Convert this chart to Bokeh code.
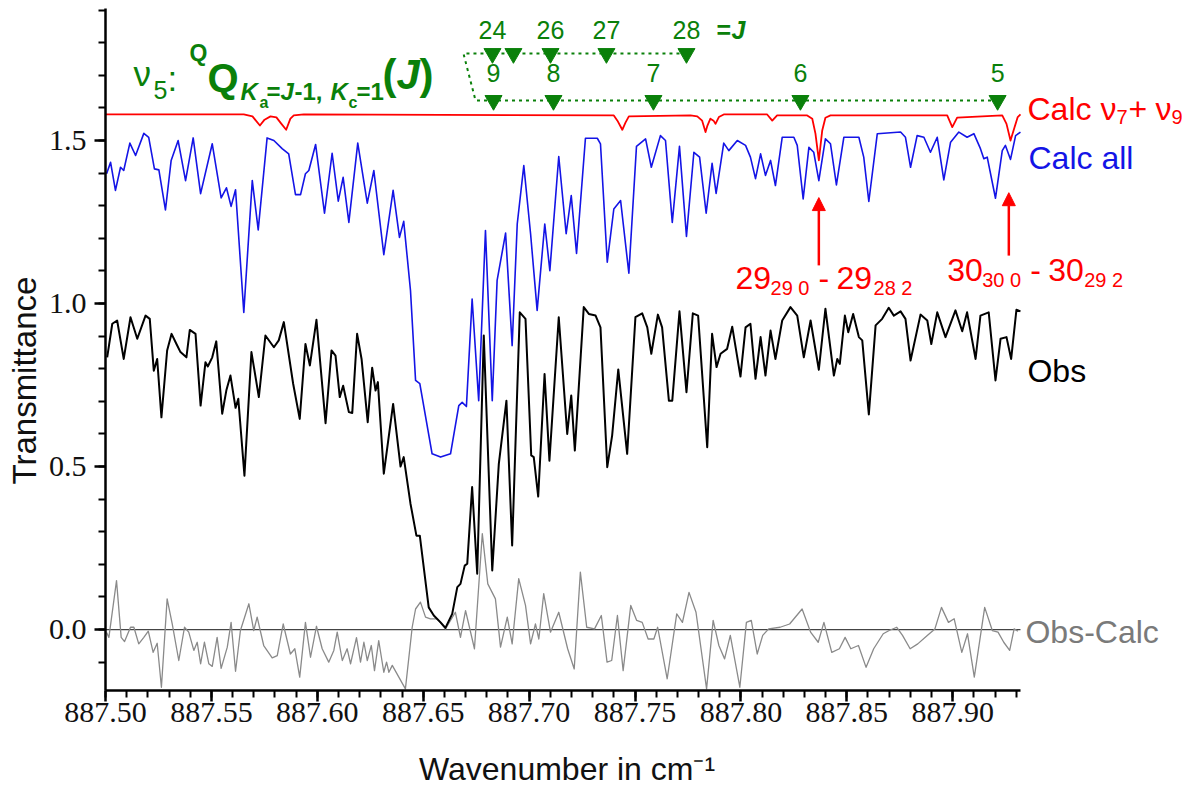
from bokeh.plotting import figure
from bokeh.models import (Range1d, SingleIntervalTicker, PrintfTickFormatter,
                          Label, Arrow, NormalHead, Title)
from bokeh.core.properties import value
from bokeh.embed import file_html
from bokeh.resources import INLINE

# ---------------------------------------------------------------- spectra
# calculated spectrum, all bands (offset upward for display)
calc_all_x = [887.5005, 887.5024, 887.5047, 887.5071, 887.5086, 887.5115, 887.5142, 887.5181, 887.5204, 887.5231,
              887.5252, 887.5283, 887.5310, 887.5343, 887.5378, 887.5414, 887.5449, 887.5504, 887.5546, 887.5571,
              887.5593, 887.5614, 887.5653, 887.5693, 887.5721, 887.5763, 887.5795, 887.5834, 887.5865, 887.5897,
              887.5921, 887.5944, 887.5960, 887.5992, 887.6034, 887.6070, 887.6099, 887.6122, 887.6149, 887.6191,
              887.6236, 887.6267, 887.6314, 887.6358, 887.6388, 887.6408, 887.6440, 887.6464, 887.6484, 887.6542,
              887.6582, 887.6629, 887.6668, 887.6684, 887.6704, 887.6731, 887.6762, 887.6794, 887.6826, 887.6849,
              887.6889, 887.6920, 887.6944, 887.6975, 887.7007, 887.7038, 887.7074, 887.7098, 887.7140, 887.7175,
              887.7199, 887.7224, 887.7266, 887.7322, 887.7337, 887.7369, 887.7400, 887.7432, 887.7471, 887.7507,
              887.7550, 887.7577, 887.7620, 887.7644, 887.7676, 887.7710, 887.7743, 887.7778, 887.7805, 887.7836,
              887.7864, 887.7883, 887.7919, 887.7943, 887.7983, 887.8022, 887.8045, 887.8069, 887.8093, 887.8116,
              887.8140, 887.8163, 887.8195, 887.8250, 887.8266, 887.8294, 887.8321, 887.8344, 887.8368, 887.8399,
              887.8423, 887.8451, 887.8486, 887.8557, 887.8580, 887.8604, 887.8644, 887.8754, 887.8777, 887.8801,
              887.8832, 887.8864, 887.8895, 887.8927, 887.8958, 887.8990, 887.9029, 887.9068, 887.9100, 887.9131,
              887.9147, 887.9163, 887.9202, 887.9234, 887.9249, 887.9273, 887.9297, 887.9320]
calc_all_y = [1.398, 1.433, 1.347, 1.418, 1.408, 1.492, 1.454, 1.522, 1.510, 1.413,
              1.410, 1.287, 1.439, 1.500, 1.377, 1.508, 1.337, 1.490, 1.324, 1.355,
              1.298, 1.349, 0.973, 1.377, 1.226, 1.508, 1.500, 1.475, 1.459, 1.334,
              1.334, 1.398, 1.408, 1.488, 1.277, 1.461, 1.314, 1.387, 1.249, 1.492,
              1.308, 1.408, 1.150, 1.347, 1.203, 1.252, 1.040, 0.764, 0.754, 0.539,
              0.529, 0.539, 0.687, 0.697, 0.684, 1.014, 0.702, 1.224, 0.702, 1.071,
              1.216, 0.871, 1.244, 1.423, 1.214, 0.979, 1.244, 1.101, 1.451, 1.214,
              1.331, 1.154, 1.507, 1.507, 1.490, 1.127, 1.290, 1.316, 1.093, 1.482,
              1.505, 1.418, 1.515, 1.500, 1.249, 1.482, 1.206, 1.464, 1.449, 1.277,
              1.430, 1.338, 1.492, 1.469, 1.500, 1.485, 1.449, 1.383, 1.459, 1.393,
              1.439, 1.362, 1.510, 1.510, 1.485, 1.321, 1.479, 1.464, 1.377, 1.505,
              1.490, 1.364, 1.510, 1.510, 1.449, 1.313, 1.521, 1.526, 1.510, 1.418,
              1.515, 1.510, 1.464, 1.510, 1.379, 1.495, 1.526, 1.510, 1.521, 1.475,
              1.444, 1.449, 1.323, 1.469, 1.485, 1.442, 1.515, 1.526]

# observed spectrum
obs_x = [887.5008, 887.5032, 887.5055, 887.5086, 887.5118, 887.5150, 887.5189, 887.5209, 887.5228, 887.5244,
         887.5264, 887.5291, 887.5312, 887.5335, 887.5354, 887.5382, 887.5398, 887.5425, 887.5449, 887.5472,
         887.5483, 887.5504, 887.5523, 887.5551, 887.5571, 887.5590, 887.5614, 887.5627, 887.5656, 887.5689,
         887.5724, 887.5755, 887.5795, 887.5818, 887.5842, 887.5886, 887.5917, 887.5944, 887.5965, 887.5996,
         887.6039, 887.6067, 887.6086, 887.6106, 887.6122, 887.6149, 887.6165, 887.6188, 887.6209, 887.6238,
         887.6259, 887.6275, 887.6286, 887.6314, 887.6358, 887.6393, 887.6408, 887.6440, 887.6468, 887.6484,
         887.6526, 887.6550, 887.6582, 887.6605, 887.6637, 887.6661, 887.6676, 887.6696, 887.6708, 887.6731,
         887.6755, 887.6786, 887.6826, 887.6857, 887.6893, 887.6920, 887.6956, 887.6983, 887.7010, 887.7022,
         887.7043, 887.7073, 887.7096, 887.7140, 887.7180, 887.7199, 887.7216, 887.7258, 887.7282, 887.7314,
         887.7337, 887.7369, 887.7392, 887.7421, 887.7463, 887.7502, 887.7534, 887.7558, 887.7577, 887.7608,
         887.7628, 887.7660, 887.7676, 887.7710, 887.7743, 887.7773, 887.7798, 887.7841, 887.7864, 887.7885,
         887.7904, 887.7935, 887.7959, 887.7998, 887.8022, 887.8045, 887.8069, 887.8093, 887.8116, 887.8140,
         887.8163, 887.8195, 887.8234, 887.8266, 887.8297, 887.8329, 887.8368, 887.8399, 887.8439, 887.8455,
         887.8467, 887.8491, 887.8507, 887.8530, 887.8557, 887.8573, 887.8604, 887.8636, 887.8667, 887.8698,
         887.8722, 887.8754, 887.8777, 887.8801, 887.8848, 887.8880, 887.8899, 887.8927, 887.8966, 887.9013,
         887.9045, 887.9068, 887.9108, 887.9131, 887.9170, 887.9202, 887.9226, 887.9254, 887.9276, 887.9301,
         887.9320]
obs_y = [0.835, 0.938, 0.948, 0.830, 0.958, 0.892, 0.963, 0.953, 0.794, 0.830,
         0.651, 0.856, 0.907, 0.876, 0.851, 0.835, 0.919, 0.907, 0.687, 0.820,
         0.807, 0.835, 0.884, 0.662, 0.735, 0.779, 0.680, 0.708, 0.472, 0.851,
         0.713, 0.902, 0.866, 0.887, 0.943, 0.754, 0.646, 0.876, 0.810, 0.950,
         0.633, 0.856, 0.840, 0.713, 0.748, 0.667, 0.664, 0.907, 0.830, 0.636,
         0.803, 0.733, 0.759, 0.478, 0.692, 0.500, 0.529, 0.386, 0.288, 0.288,
         0.068, 0.043, 0.022, 0.005, 0.048, 0.130, 0.140, 0.196, 0.202, 0.437,
         0.171, 0.902, 0.181, 0.508, 0.702, 0.258, 0.973, 0.953, 0.534, 0.529,
         0.408, 0.784, 0.518, 0.958, 0.600, 0.718, 0.549, 0.989, 0.968, 0.963,
         0.927, 0.498, 0.595, 0.798, 0.539, 0.958, 0.970, 0.927, 0.846, 0.966,
         0.927, 0.702, 0.702, 0.976, 0.728, 0.970, 0.963, 0.559, 0.907, 0.805,
         0.846, 0.861, 0.929, 0.776, 0.927, 0.938, 0.769, 0.897, 0.779, 0.917,
         0.830, 0.948, 0.989, 0.963, 0.835, 0.948, 0.797, 0.984, 0.779, 0.830,
         0.815, 0.963, 0.912, 0.968, 0.897, 0.887, 0.660, 0.933, 0.953, 0.987,
         0.963, 0.976, 0.953, 0.825, 0.966, 0.948, 0.876, 0.973, 0.897, 0.979,
         0.915, 0.973, 0.830, 0.963, 0.973, 0.764, 0.892, 0.897, 0.830, 0.981,
         0.976]

# residual, observed minus calculated
resid_x = [887.5005, 887.5016, 887.5052, 887.5074, 887.5090, 887.5118, 887.5134, 887.5157, 887.5181, 887.5202,
           887.5225, 887.5244, 887.5264, 887.5291, 887.5315, 887.5346, 887.5373, 887.5393, 887.5417, 887.5433,
           887.5449, 887.5467, 887.5488, 887.5504, 887.5527, 887.5546, 887.5575, 887.5593, 887.5614, 887.5637,
           887.5677, 887.5700, 887.5716, 887.5747, 887.5787, 887.5811, 887.5839, 887.5873, 887.5894, 887.5917,
           887.5944, 887.5968, 887.5996, 887.6023, 887.6054, 887.6078, 887.6094, 887.6118, 887.6141, 887.6157,
           887.6185, 887.6204, 887.6220, 887.6236, 887.6255, 887.6270, 887.6290, 887.6314, 887.6327, 887.6338,
           887.6354, 887.6416, 887.6448, 887.6464, 887.6487, 887.6511, 887.6534, 887.6566, 887.6605, 887.6652,
           887.6676, 887.6700, 887.6742, 887.6779, 887.6805, 887.6841, 887.6865, 887.6897, 887.6920, 887.6951,
           887.6983, 887.7007, 887.7030, 887.7046, 887.7069, 887.7101, 887.7140, 887.7182, 887.7213, 887.7242,
           887.7272, 887.7309, 887.7341, 887.7368, 887.7390, 887.7417, 887.7444, 887.7480, 887.7508, 887.7534,
           887.7562, 887.7589, 887.7607, 887.7652, 887.7697, 887.7724, 887.7755, 887.7788, 887.7838, 887.7869,
           887.7896, 887.7923, 887.7950, 887.7995, 887.8026, 887.8049, 887.8077, 887.8103, 887.8131, 887.8185,
           887.8230, 887.8289, 887.8329, 887.8365, 887.8392, 887.8429, 887.8465, 887.8492, 887.8519, 887.8555,
           887.8591, 887.8627, 887.8672, 887.8700, 887.8736, 887.8763, 887.8799, 887.8835, 887.8880, 887.8916,
           887.8947, 887.8980, 887.9007, 887.9043, 887.9070, 887.9102, 887.9151, 887.9187, 887.9214, 887.9241,
           887.9269, 887.9290, 887.9308]
resid_y = [-0.009, -0.024, 0.150, -0.024, -0.037, 0.007, 0.007, -0.044, -0.024, -0.005,
           -0.070, -0.042, -0.177, 0.094, 0.017, -0.095, 0.007, -0.008, -0.064, -0.039,
           -0.105, -0.039, -0.105, -0.113, -0.024, -0.119, -0.054, 0.022, -0.128, -0.003,
           0.079, -0.003, 0.038, -0.049, -0.087, -0.080, 0.017, -0.075, -0.059, -0.146,
           0.022, -0.085, 0.010, -0.059, -0.100, -0.064, -0.008, -0.095, -0.059, -0.105,
           -0.025, -0.100, -0.039, -0.095, -0.049, -0.126, -0.034, -0.131, -0.100, -0.131,
           -0.110, -0.182, 0.007, 0.063, 0.084, 0.038, 0.033, 0.033, 0.002, 0.053,
           -0.024, 0.058, -0.059, 0.294, 0.140, 0.094, -0.054, 0.038, -0.044, 0.156,
           0.074, -0.044, 0.017, -0.029, 0.110, -0.008, 0.053, -0.059, -0.121, 0.176,
           0.007, 0.002, 0.043, -0.100, -0.095, 0.043, -0.126, 0.074, 0.028, 0.022,
           -0.029, -0.029, 0.007, -0.151, 0.048, 0.022, 0.114, 0.053, -0.182, 0.028,
           -0.049, -0.090, -0.018, -0.177, 0.022, 0.028, -0.075, -0.018, 0.002, 0.007,
           0.017, 0.063, -0.008, -0.039, 0.022, -0.070, -0.059, -0.024, -0.059, -0.049,
           -0.116, -0.059, -0.013, -0.003, 0.007, -0.018, -0.059, -0.044, -0.018, 0.002,
           0.068, 0.022, 0.033, -0.070, -0.013, -0.146, 0.068, -0.003, -0.008, -0.039,
           -0.064, 0.002, -0.005]

# calculated nu7 + nu9 band alone (offset to the top)
calc79_x = [887.5000, 887.5653, 887.5694, 887.5729, 887.5751, 887.5779, 887.5807, 887.5826, 887.5853, 887.5873,
            887.5889, 887.5936, 887.7400, 887.7417, 887.7440, 887.7455, 887.7471, 887.7762, 887.7794, 887.7817,
            887.7833, 887.7842, 887.7856, 887.7871, 887.7880, 887.7896, 887.7919, 887.8124, 887.8148, 887.8171,
            887.8313, 887.8337, 887.8352, 887.8368, 887.8384, 887.8399, 887.8423, 887.8974, 887.8998, 887.9021,
            887.9234, 887.9254, 887.9273, 887.9292, 887.9307, 887.9320]
calc79_y = [1.580, 1.580, 1.574, 1.546, 1.564, 1.574, 1.571, 1.555, 1.533, 1.567,
            1.577, 1.580, 1.577, 1.561, 1.533, 1.555, 1.574, 1.577, 1.574, 1.561,
            1.526, 1.546, 1.567, 1.561, 1.551, 1.572, 1.580, 1.580, 1.561, 1.577,
            1.577, 1.567, 1.521, 1.439, 1.531, 1.570, 1.577, 1.577, 1.541, 1.570,
            1.577, 1.551, 1.500, 1.541, 1.572, 1.580]

# ---------------------------------------------------------- line assignments
upper_labels = ["24", "", "26", "27", "28"]
upper_x = [887.6827, 887.6926, 887.7101, 887.7365, 887.7743]
upper_level = 1.767
lower_labels = ["9", "8", "7", "6", "5"]
lower_x = [887.6832, 887.7115, 887.7587, 887.8281, 887.9212]
lower_level = 1.623
bracket_x = [887.6690, 887.6747]          # left ends of the two dotted rows

# nu7+nu9 transitions marked with arrows
arrow_x = [887.8368, 887.9265]
arrow_y0 = [1.117, 1.147]
arrow_y1 = [1.325, 1.340]

# ----------------------------------------------------------------- styling
X_START, X_END = 887.5, 887.932
Y_START, Y_END = -0.187, 1.905
PX_PER_X = 2118.0                         # frame pixels per cm-1
PX_PER_Y = 326.0                          # frame pixels per transmittance unit
RAISE = 10                                # baseline correction for labels, px
FONT = "Liberation Sans"
TICK_FONT = "Liberation Sans Narrow"
RED, BLUE, GREEN, GREY = "#ff0000", "#1414e6", "#0a800a", "#8a8a8a"

W, H = 1197, 792
LEFT, TOP, BOTTOM = 105, 8, 102
frame_w = W - LEFT

p = figure(width=W, height=H, output_backend="svg", toolbar_location=None,
           x_range=Range1d(X_START, X_START + frame_w / PX_PER_X),
           y_range=Range1d(Y_START, Y_END),
           min_border_left=LEFT, min_border_right=0,
           min_border_top=TOP, min_border_bottom=BOTTOM)
p.outline_line_color = None
p.grid.visible = False
p.background_fill_color = "white"
p.border_fill_color = "white"

for ax in (p.xaxis[0], p.yaxis[0]):
    ax.axis_line_width = 2.5
    ax.major_tick_line_width = 2.5
    ax.minor_tick_line_width = 2
    ax.major_tick_in = 0
    ax.minor_tick_in = 0
    ax.major_tick_out = 11
    ax.minor_tick_out = 7
    ax.major_label_text_font = TICK_FONT
    ax.major_label_text_font_size = "30px"
    ax.major_label_text_color = "#111111"

p.xaxis.ticker = SingleIntervalTicker(interval=0.05, num_minor_ticks=5)
p.xaxis.formatter = PrintfTickFormatter(format="%.2f")
p.xaxis.bounds = (X_START, X_END)
p.xaxis.major_label_standoff = 1
# the label is centred on the whole frame; trailing no-break spaces pull the
# visible words back over the bounded axis
p.xaxis.axis_label = "Wavenumber in cm\u207b\u00b9" + "\u00a0" * 19
p.xaxis.axis_label_text_font = FONT
p.xaxis.axis_label_text_font_size = "32px"
p.xaxis.axis_label_text_font_style = "normal"
p.xaxis.axis_label_text_color = "#111111"
p.xaxis.axis_label_standoff = 26

p.yaxis.ticker = SingleIntervalTicker(interval=0.5, num_minor_ticks=5)
p.yaxis.formatter = PrintfTickFormatter(format="%.1f")
p.yaxis.bounds = (Y_START, Y_END)
p.yaxis.major_label_standoff = 8

# y title as a border title so it can sit off-centre
p.add_layout(Title(text="Transmittance", align="left", offset=206, standoff=5,
                   text_font=FONT, text_font_size="33px",
                   text_font_style="normal", text_color="#111111"), "left")

# ------------------------------------------------------------------ curves
p.line([X_START, X_END], [0, 0], line_color="#444444", line_width=1.2)
p.line(resid_x, resid_y, line_color=GREY, line_width=1.3, line_join="round")
p.line(obs_x, obs_y, line_color="black", line_width=2, line_join="round")
p.line(calc_all_x, calc_all_y, line_color=BLUE, line_width=1.6, line_join="round")
p.line(calc79_x, calc79_y, line_color=RED, line_width=1.8, line_join="round")

# dotted assignment brackets and triangle markers
p.line([upper_x[-1], bracket_x[0], bracket_x[1], lower_x[-1]],
       [upper_level, upper_level, lower_level, lower_level],
       line_color=GREEN, line_width=2, line_dash="3 4")
p.scatter(upper_x, [upper_level] * len(upper_x), marker="inverted_triangle",
          size=17, color=GREEN)
p.scatter(lower_x, [lower_level] * len(lower_x), marker="inverted_triangle",
          size=17, color=GREEN)
lift = RAISE / PX_PER_Y
p.text(x=upper_x, y=[upper_level + 0.040 + lift] * len(upper_x), text=upper_labels,
       text_font=value(FONT), text_font_size="25px", text_color=GREEN,
       text_align="center", text_baseline="alphabetic")
p.text(x=lower_x, y=[lower_level + 0.052 + lift] * len(lower_x), text=lower_labels,
       text_font=value(FONT), text_font_size="25px", text_color=GREEN,
       text_align="center", text_baseline="alphabetic")

for xa, ya, yb in zip(arrow_x, arrow_y0, arrow_y1):
    p.add_layout(Arrow(end=NormalHead(size=13, fill_color=RED, line_color=RED),
                       x_start=xa, y_start=ya, x_end=xa, y_end=yb,
                       line_color=RED, line_width=2.5))


def rich(x, y, pieces, color):
    """Draw a run of text pieces (text, dx, dy, size, style) from an anchor."""
    for text, dx, dy, size, style in pieces:
        p.add_layout(Label(x=x, y=y, x_offset=dx, y_offset=dy + RAISE, text=text,
                           text_font=FONT, text_font_size=f"{size}px",
                           text_font_style=style, text_color=color,
                           text_align="left", text_baseline="alphabetic"))


# band title
rich(X_START, 1.675, [
    ("\u03bd", 28, 0, 35, "normal"),
    ("5", 48, -17, 25, "normal"),
    (":", 62, -5, 35, "normal"),
    ("Q", 84, 20, 23, "bold"),
    ("Q", 102, -5, 40, "bold"),
    ("K", 135, -18, 24, "bold italic"),
    ("a", 154, -29, 16, "bold"),
    ("=", 161, -18, 24, "bold"),
    ("J", 175, -18, 24, "bold italic"),
    ("-1,", 189, -18, 24, "bold"),
    ("K", 225, -18, 24, "bold italic"),
    ("c", 243, -29, 16, "bold"),
    ("=1", 251, -18, 24, "bold"),
    ("(", 277, -1, 42, "bold"),
    ("J", 291, -1, 42, "bold italic"),
    (")", 314, -1, 42, "bold"),
], GREEN)

# "=J" after the upper row
rich(upper_x[-1], upper_level + 0.040, [
    ("=", 30, 0, 25, "bold"),
    ("J", 45, 0, 25, "bold italic"),
], GREEN)

# trace names on the right
rich(X_END, 1.5675, [
    ("Calc \u03bd", 7, 0, 32, "normal"),
    ("7", 96, -8, 20, "normal"),
    ("+", 108, 0, 32, "normal"),
    ("\u03bd", 135, 0, 32, "normal"),
    ("9", 151, -8, 20, "normal"),
], RED)
rich(X_END, 1.417, [("Calc all", 8, 0, 32, "normal")], BLUE)
rich(X_END, 0.761, [("Obs", 7, 0, 32, "normal")], "black")
rich(X_END, -0.037, [("Obs-Calc", 5, 0, 32, "normal")], "#7a7a7a")

# transition labels under the arrows
rich(arrow_x[0] - 83.3 / PX_PER_X, 1.049, [
    ("29", 0, 0, 32, "normal"),
    ("29 0", 35, -10, 20, "normal"),
    ("-", 83, 0, 32, "normal"),
    ("29", 101, 0, 32, "normal"),
    ("28 2", 138, -10, 20, "normal"),
], RED)
rich(arrow_x[1] - 61.6 / PX_PER_X, 1.071, [
    ("30", 0, 0, 32, "normal"),
    ("30 0", 35, -10, 20, "normal"),
    ("-", 83, 0, 32, "normal"),
    ("30", 101, 0, 32, "normal"),
    ("29 2", 137, -10, 20, "normal"),
], RED)

open("out.html", "w").write(file_html(p, INLINE))
